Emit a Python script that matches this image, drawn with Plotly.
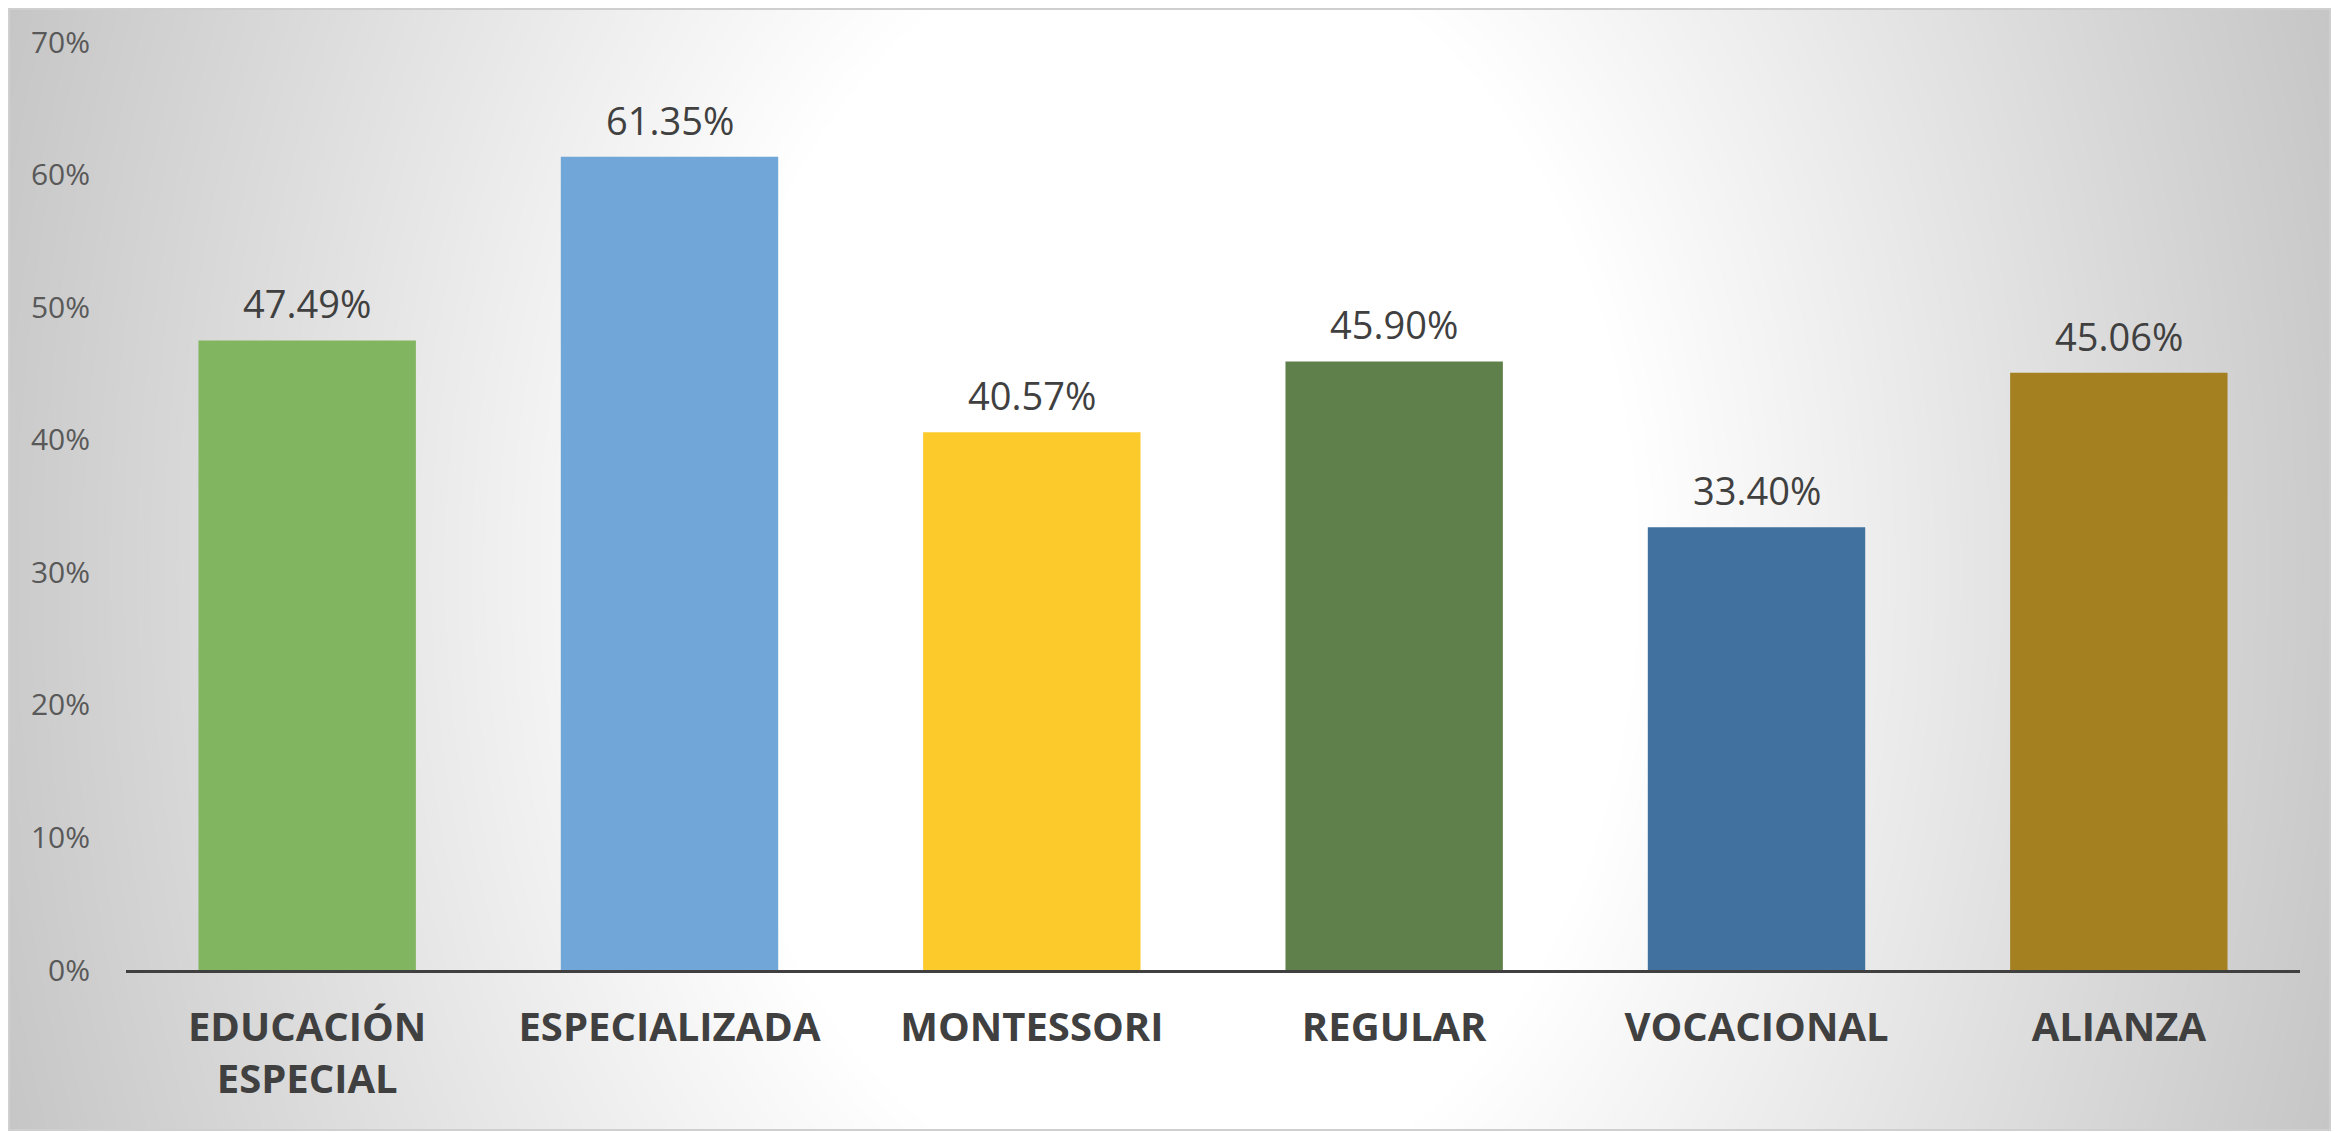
import numpy as np
import plotly.graph_objects as go

# ---- data ----
categories = ["EDUCACIÓN<br>ESPECIAL", "ESPECIALIZADA", "MONTESSORI", "REGULAR", "VOCACIONAL", "ALIANZA"]
values = [0.4749, 0.6135, 0.4057, 0.4590, 0.3340, 0.4506]
bar_colors = ["#81b55f", "#70a6d8", "#fcca2b", "#5f804a", "#41719e", "#a48021"]
y_ticks = [0, 0.1, 0.2, 0.3, 0.4, 0.5, 0.6, 0.7]

# page body has an 8px default margin -> shrink figure and shift coords
OFF = 8
W, H = 2339 - OFF, 1132 - OFF
# frame (reference pixels)
fx0, fx1, fy0, fy1 = 9 - OFF, 2330 - OFF, 9 - OFF, 1130 - OFF
# plot area (reference pixels)
px0, px1, py_top, py_zero = 126 - OFF, 2300 - OFF, 42 - OFF, 970 - OFF

# ---- background gradient (styling) ----
nx, ny = 160, 80
gx = np.linspace(0, 1, nx)
gy = np.linspace(0, 1, ny)
GX, GY = np.meshgrid(gx, gy)
dx = (GX - 0.5) * (fx1 - fx0)
dy = (GY - 0.5) * (fy1 - fy0)
t = np.sqrt((dx / 1160.0) ** 2 + (dy / 1600.0) ** 2)
shade = 255 - 52 * np.clip((t - 0.4) / 0.6, 0, None)

fig = go.Figure()
fig.add_trace(go.Heatmap(
    x=gx, y=gy, z=shade, zmin=190, zmax=255, zsmooth="best",
    colorscale=[[0, "rgb(190,190,190)"], [1, "rgb(255,255,255)"]],
    showscale=False, hoverinfo="skip", xaxis="x", yaxis="y"))

fig.add_trace(go.Bar(
    x=categories, y=values, marker=dict(color=bar_colors, line=dict(width=0)),
    width=0.6, xaxis="x2", yaxis="y2", hovertemplate="%{y:.2%}<extra></extra>"))

for c, v in zip(categories, values):
    fig.add_annotation(x=c, y=v, xref="x2", yref="y2", text=f"{v*100:.2f}%",
                       showarrow=False, yanchor="bottom", yshift=9,
                       font=dict(family="Open Sans", size=38, color="#404040"))

fig.add_shape(type="rect", xref="paper", yref="paper",
              x0=fx0 / W, x1=fx1 / W, y0=1 - fy1 / H, y1=1 - fy0 / H,
              line=dict(color="#cfcfcf", width=2), layer="above")

fig.update_layout(
    template="none",
    width=W, height=H, margin=dict(l=0, r=0, t=0, b=0, autoexpand=False),
    paper_bgcolor="white", plot_bgcolor="rgba(0,0,0,0)", showlegend=False,
    xaxis=dict(domain=[fx0 / W, fx1 / W], range=[0, 1], visible=False, fixedrange=True,
               automargin=False),
    yaxis=dict(domain=[1 - fy1 / H, 1 - fy0 / H], range=[0, 1], visible=False, fixedrange=True,
               automargin=False),
    xaxis2=dict(domain=[px0 / W, px1 / W], anchor="y2", showline=True, linecolor="#404040",
                linewidth=3, showgrid=False, zeroline=False, ticks="", ticklabelstandoff=20,
                automargin=False,
                tickfont=dict(family="Open Sans", size=40, color="#404040", weight="bold")),
    yaxis2=dict(domain=[1 - py_zero / H, 1 - py_top / H], anchor="x2", range=[0, 0.7],
                tickvals=y_ticks, tickformat=".0%", showgrid=False, zeroline=False,
                showline=False, ticks="", ticklabelstandoff=35, automargin=False,
                tickfont=dict(family="Open Sans", size=30, color="#595959")),
)

fig.write_html("out.html")
